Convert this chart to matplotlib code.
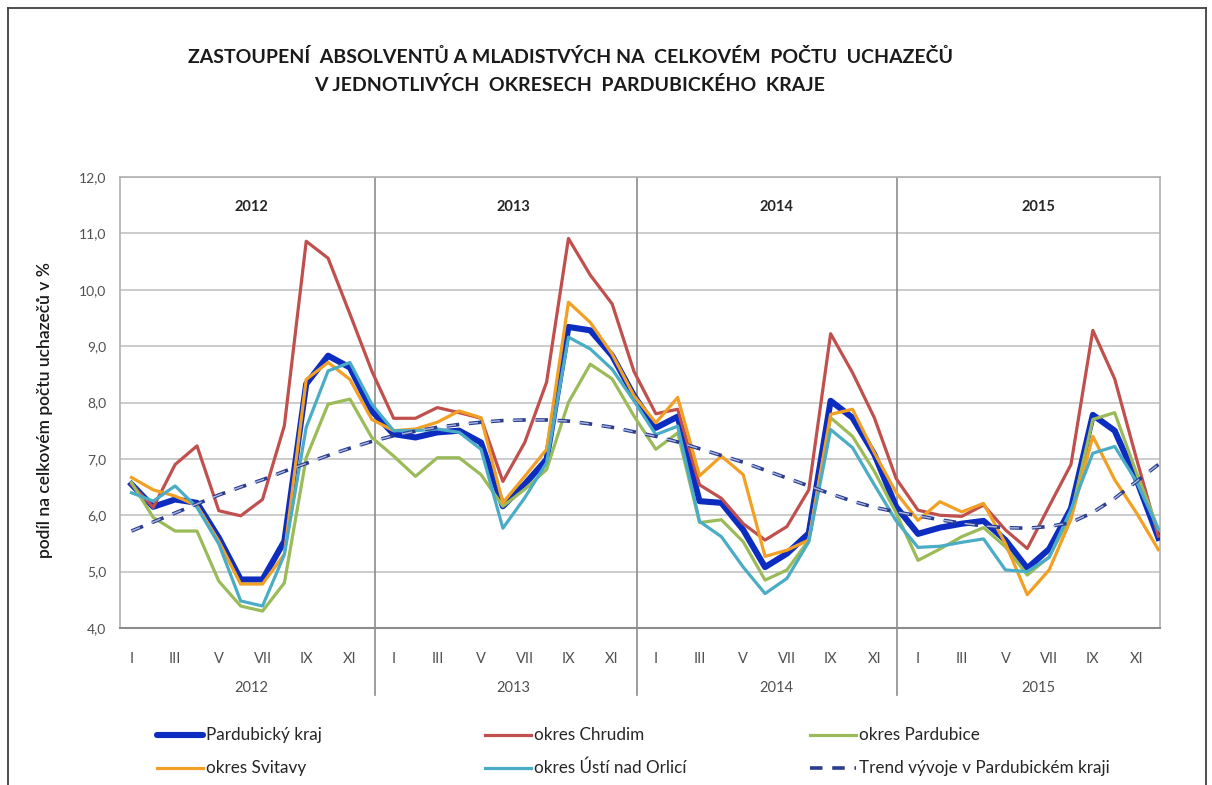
import matplotlib
matplotlib.use("Agg")
import matplotlib.pyplot as plt
from matplotlib.lines import Line2D
import numpy as np

# ---------------- data ----------------
years = ["2012", "2013", "2014", "2015"]
month_labels = ["I", "II", "III", "IV", "V", "VI", "VII", "VIII", "IX", "X", "XI", "XII"]

kraj = [6.55, 6.15, 6.28, 6.22, 5.60, 4.86, 4.86, 5.54, 8.33, 8.83, 8.62, 7.85,
        7.44, 7.38, 7.47, 7.50, 7.29, 6.16, 6.55, 6.99, 9.34, 9.28, 8.83, 8.12,
        7.55, 7.75, 6.25, 6.22, 5.74, 5.08, 5.32, 5.68, 8.03, 7.73, 7.08, 6.15,
        5.67, 5.78, 5.85, 5.90, 5.56, 5.06, 5.40, 6.12, 7.78, 7.50, 6.63, 5.60]
chrudim = [6.55, 6.14, 6.90, 7.23, 6.08, 5.99, 6.28, 7.59, 10.86, 10.56, 9.57, 8.56,
           7.72, 7.72, 7.91, 7.82, 7.72, 6.60, 7.29, 8.36, 10.91, 10.26, 9.75, 8.55,
           7.80, 7.88, 6.54, 6.30, 5.85, 5.56, 5.80, 6.45, 9.22, 8.53, 7.73, 6.65,
           6.09, 6.00, 5.98, 6.18, 5.74, 5.41, 6.16, 6.90, 9.28, 8.42, 7.00, 5.63]
pardubice = [6.58, 5.96, 5.72, 5.72, 4.83, 4.39, 4.30, 4.80, 7.02, 7.97, 8.06, 7.38,
             7.05, 6.69, 7.02, 7.02, 6.72, 6.16, 6.46, 6.81, 8.00, 8.68, 8.42, 7.76,
             7.17, 7.46, 5.87, 5.92, 5.53, 4.85, 5.03, 5.56, 7.73, 7.40, 6.78, 6.04,
             5.20, 5.40, 5.62, 5.78, 5.44, 4.94, 5.26, 6.00, 7.70, 7.82, 6.75, 5.75]
svitavy = [6.67, 6.45, 6.34, 6.17, 5.54, 4.78, 4.78, 5.31, 8.41, 8.71, 8.41, 7.70,
           7.50, 7.53, 7.65, 7.85, 7.73, 6.22, 6.69, 7.17, 9.78, 9.42, 8.86, 8.12,
           7.64, 8.09, 6.70, 7.05, 6.72, 5.27, 5.38, 5.56, 7.79, 7.88, 7.11, 6.40,
           5.91, 6.24, 6.06, 6.21, 5.50, 4.59, 5.03, 5.93, 7.40, 6.63, 6.04, 5.39]
usti = [6.40, 6.25, 6.52, 6.14, 5.49, 4.48, 4.39, 5.30, 7.56, 8.56, 8.71, 7.97,
        7.50, 7.50, 7.53, 7.47, 7.17, 5.77, 6.31, 6.93, 9.16, 8.95, 8.59, 8.03,
        7.43, 7.58, 5.89, 5.62, 5.08, 4.61, 4.88, 5.53, 7.52, 7.20, 6.54, 5.90,
        5.43, 5.45, 5.52, 5.58, 5.03, 5.00, 5.25, 6.10, 7.10, 7.22, 6.60, 5.75]
trend = [5.72, 5.88, 6.04, 6.20, 6.36, 6.50, 6.63, 6.78, 6.92, 7.06, 7.19, 7.31,
         7.41, 7.49, 7.56, 7.61, 7.65, 7.68, 7.69, 7.69, 7.67, 7.62, 7.56, 7.48,
         7.40, 7.30, 7.18, 7.06, 6.94, 6.80, 6.66, 6.52, 6.38, 6.25, 6.14, 6.06,
         5.99, 5.92, 5.86, 5.81, 5.78, 5.77, 5.80, 5.87, 6.05, 6.30, 6.60, 6.90]

series_names = ["Pardubický kraj", "okres Chrudim", "okres Pardubice",
                "okres Svitavy", "okres Ústí nad Orlicí", "Trend vývoje v Pardubickém kraji"]
y_ticks = [4, 5, 6, 7, 8, 9, 10, 11, 12]

# ---------------- style ----------------
plt.rcParams['font.family'] = ['Lato', 'DejaVu Sans']
plt.rcParams['lines.scale_dashes'] = False

W, H = 1212, 785
fig = plt.figure(figsize=(W / 100, H / 100), dpi=100)

def fx(x):
    return x / W

def fy(y):
    return 1 - y / H

L, R, T, B = 120, 1160, 177, 628
ax = fig.add_axes([fx(L), fy(B), fx(R) - fx(L), fy(T) - fy(B)])

# category slot geometry (pixels)
slot0, slot = 120.5, 21.85

def px2x(p):
    return (p - slot0) / slot - 0.5

ypx = (B - T) / 8.0  # pixels per unit

def py2y(p):
    return 12 - (p - T) / ypx

n = len(kraj)
x = np.arange(n)

col_kraj = '#0c2dbf'
col_chr = '#c0504d'
col_par = '#9bbb59'
col_svi = '#f2a024'
col_ust = '#4bacc6'
col_trend = '#2c3d8c'

ax.plot(x, kraj, color=col_kraj, lw=4.4, solid_joinstyle='round', zorder=3)
ax.plot(x, chrudim, color=col_chr, lw=2.3, zorder=4)
ax.plot(x, pardubice, color=col_par, lw=2.3, zorder=4)
ax.plot(x, svitavy, color=col_svi, lw=2.3, zorder=4)
ax.plot(x, usti, color=col_ust, lw=2.3, zorder=4)
ax.plot(x, trend, color=col_trend, lw=2.6, linestyle=(0, (9, 7)), zorder=5)
ax.plot(x, trend, color='#aab8e6', lw=1.0, linestyle=(0.8, (7.4, 8.6)), zorder=6)

ax.set_xlim(px2x(L), px2x(R))
ax.set_ylim(4, 12)
ax.set_yticks(y_ticks)
ax.set_yticklabels([f"{v:.1f}".replace('.', ',') for v in y_ticks],
                   fontsize=10, color='#505050')
ax.tick_params(axis='y', length=0, pad=10)
ax.grid(axis='y', color='#cccccc', lw=1.4)
ax.set_axisbelow(True)

# month ticks
mt = [i for i in range(n) if i % 2 == 0]
ax.set_xticks(mt)
ax.set_xticklabels([month_labels[i % 12] for i in mt], fontsize=10.5, color='#505050')
ax.tick_params(axis='x', length=0, pad=17)

for s in ['top', 'right', 'left']:
    ax.spines[s].set_color('#b0b0b0')
    ax.spines[s].set_linewidth(1.2)
ax.spines['bottom'].set_color('#8c8c8c')
ax.spines['bottom'].set_linewidth(1.5)

# year separators (extend below axis)
for sep_px in [375, 637, 897.5]:
    xs = px2x(sep_px)
    ax.plot([xs, xs], [12, 4], color='#8c8c8c', lw=1.2, zorder=2)
    ax.add_line(Line2D([xs, xs], [4, py2y(695)], color='#8c8c8c', lw=1.2, clip_on=False))

for k, yr in enumerate(years):
    xc = 12 * k + 5.5
    ax.text(xc, py2y(207), yr, ha='center', va='center',
            fontsize=10.5, fontweight='bold', color='#262626')
    ax.text(xc, py2y(688), yr, ha='center', va='center',
            fontsize=10.5, color='#505050', clip_on=False)

# y label
fig.text(fx(45), fy(410), "podíl na celkovém počtu uchazečů v %", rotation=90,
         ha='center', va='center', fontsize=12.5, color='#1a1a1a', fontweight='semibold')

# title
fig.text(fx(571), fy(57), "ZASTOUPENÍ  ABSOLVENTŮ A MLADISTVÝCH NA  CELKOVÉM  POČTU  UCHAZEČŮ",
         ha='center', va='center', fontsize=14, fontweight='bold', color='#1a1a1a')
fig.text(fx(570), fy(85), "V JEDNOTLIVÝCH  OKRESECH  PARDUBICKÉHO  KRAJE",
         ha='center', va='center', fontsize=14, fontweight='bold', color='#1a1a1a')

# legend (manual grid)
leg = [
    (157, 735, series_names[0], dict(color=col_kraj, lw=4.4, solid_capstyle='round')),
    (485, 735, series_names[1], dict(color=col_chr, lw=2.3)),
    (810, 735, series_names[2], dict(color=col_par, lw=2.3)),
    (157, 768, series_names[3], dict(color=col_svi, lw=2.3)),
    (485, 768, series_names[4], dict(color=col_ust, lw=2.3)),
    (810, 768, series_names[5], dict(color=col_trend, lw=2.6, linestyle=(0, (9, 7)))),
]
for lx, ly, name, kw in leg:
    fig.add_artist(Line2D([fx(lx), fx(lx + 46)], [fy(ly), fy(ly)],
                          transform=fig.transFigure, **kw))
    fig.text(fx(lx + 49), fy(ly), name, ha='left', va='center',
             fontsize=12.3, color='#262626')

# outer frame
frame = dict(color='#404040', lw=1.3, transform=fig.transFigure)
fig.add_artist(Line2D([fx(8), fx(1206)], [fy(8), fy(8)], **frame))
fig.add_artist(Line2D([fx(8), fx(8)], [fy(8), 0], **frame))
fig.add_artist(Line2D([fx(1206), fx(1206)], [fy(8), 0], **frame))

fig.savefig("out.png", dpi=100)
